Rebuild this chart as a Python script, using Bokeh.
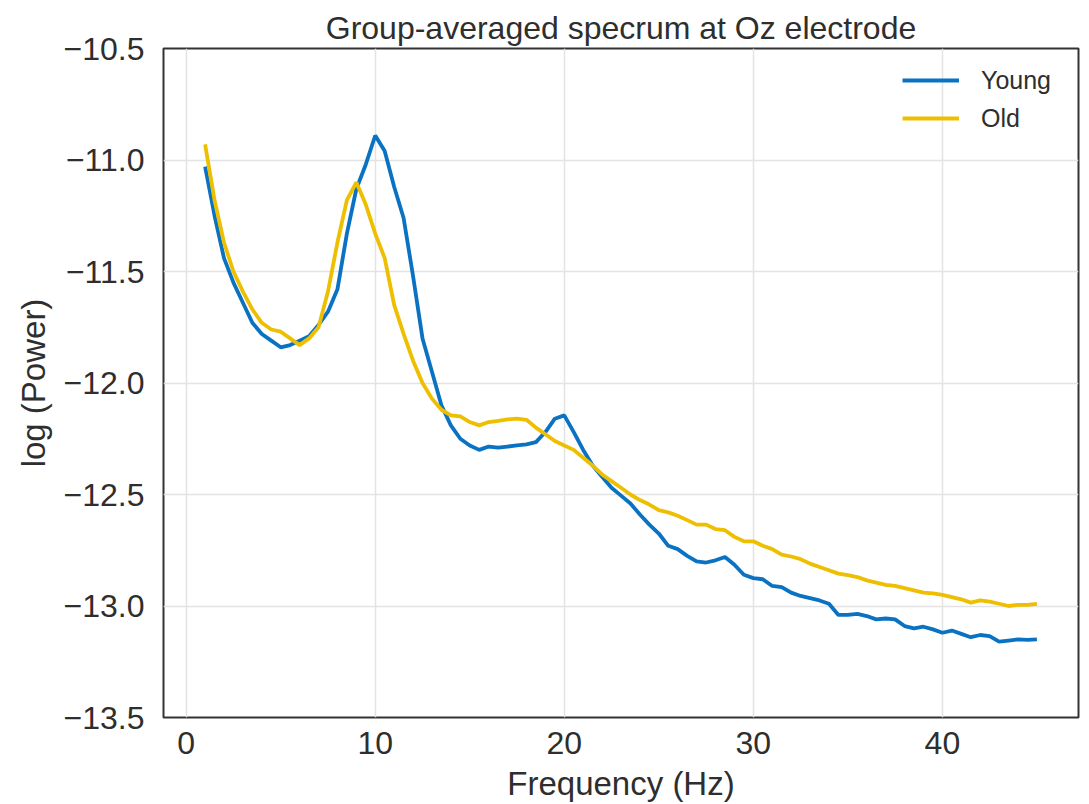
from bokeh.plotting import figure
from bokeh.models import Range1d, FixedTicker, CustomJSTickFormatter, Legend, LegendItem
from bokeh.embed import file_html
from bokeh.resources import INLINE

freq = [1.0, 1.5, 2.0, 2.5, 3.0, 3.5, 4.0, 4.5, 5.0, 5.5,
        6.0, 6.5, 7.0, 7.5, 8.0, 8.5, 9.0, 9.5, 10.0, 10.5,
        11.0, 11.5, 12.0, 12.5, 13.0, 13.5, 14.0, 14.5, 15.0, 15.5,
        16.0, 16.5, 17.0, 17.5, 18.0, 18.5, 19.0, 19.5, 20.0, 20.5,
        21.0, 21.5, 22.0, 22.5, 23.0, 23.5, 24.0, 24.5, 25.0, 25.5,
        26.0, 26.5, 27.0, 27.5, 28.0, 28.5, 29.0, 29.5, 30.0, 30.5,
        31.0, 31.5, 32.0, 32.5, 33.0, 33.5, 34.0, 34.5, 35.0, 35.5,
        36.0, 36.5, 37.0, 37.5, 38.0, 38.5, 39.0, 39.5, 40.0, 40.5,
        41.0, 41.5, 42.0, 42.5, 43.0, 43.5, 44.0, 44.5, 45.0]

young = [-11.03, -11.25, -11.44, -11.55, -11.64, -11.73, -11.78, -11.81, -11.84, -11.83,
         -11.81, -11.79, -11.74, -11.68, -11.58, -11.33, -11.13, -11.02, -10.89, -10.96,
         -11.12, -11.26, -11.52, -11.80, -11.95, -12.10, -12.19, -12.25, -12.28, -12.30,
         -12.285, -12.29, -12.285, -12.28, -12.275, -12.265, -12.22, -12.16, -12.145, -12.22,
         -12.30, -12.37, -12.42, -12.47, -12.505, -12.54, -12.59, -12.635, -12.675, -12.73,
         -12.745, -12.775, -12.80, -12.805, -12.795, -12.78, -12.815, -12.86, -12.875, -12.88,
         -12.91, -12.915, -12.94, -12.955, -12.965, -12.975, -12.99, -13.04, -13.04, -13.035,
         -13.045, -13.06, -13.056, -13.06, -13.09, -13.10, -13.093, -13.105, -13.12, -13.11,
         -13.125, -13.14, -13.13, -13.135, -13.16, -13.155, -13.15, -13.152, -13.15]

old = [-10.93, -11.18, -11.37, -11.50, -11.59, -11.67, -11.73, -11.76, -11.77, -11.80,
       -11.83, -11.80, -11.75, -11.59, -11.37, -11.18, -11.10, -11.20, -11.33, -11.44,
       -11.65, -11.78, -11.90, -12.00, -12.07, -12.12, -12.145, -12.15, -12.175, -12.19,
       -12.175, -12.17, -12.163, -12.16, -12.165, -12.20, -12.23, -12.26, -12.28, -12.30,
       -12.335, -12.37, -12.41, -12.44, -12.47, -12.50, -12.525, -12.545, -12.57, -12.58,
       -12.595, -12.615, -12.635, -12.635, -12.655, -12.66, -12.69, -12.71, -12.71, -12.73,
       -12.745, -12.77, -12.778, -12.79, -12.81, -12.825, -12.84, -12.855, -12.862, -12.87,
       -12.885, -12.895, -12.905, -12.91, -12.92, -12.93, -12.94, -12.943, -12.95, -12.96,
       -12.97, -12.985, -12.975, -12.98, -12.99, -13.00, -12.995, -12.995, -12.99]

x_ticks = [0, 10, 20, 30, 40]
y_ticks = [-13.5, -13.0, -12.5, -12.0, -11.5, -11.0, -10.5]

TXT = "#2e2e2e"
FONT = "Liberation Sans"

p = figure(width=1089, height=804, output_backend="svg", toolbar_location=None,
           x_range=Range1d(-1.2, 47.2), y_range=Range1d(-13.5, -10.5),
           title="Group-averaged specrum at Oz electrode")
p.frame_width = 915
p.frame_height = 669
p.min_border_left = 163
p.min_border_right = 11
p.min_border_top = 48
p.min_border_bottom = 87
p.background_fill_color = "white"
p.border_fill_color = "white"
p.outline_line_color = "#333333"
p.outline_line_width = 2
p.outline_line_alpha = 1.0

p.title.align = "center"
p.title.text_font = FONT
p.title.text_font_size = "32px"
p.title.text_font_style = "normal"
p.title.text_color = TXT
p.title.standoff = 5

for ax in (p.xaxis[0], p.yaxis[0]):
    ax.axis_line_color = None
    ax.major_tick_line_color = None
    ax.minor_tick_line_color = None
    ax.major_tick_out = 0
    ax.major_tick_in = 0
    ax.minor_tick_out = 0
    ax.minor_tick_in = 0
    ax.major_label_text_font = FONT
    ax.major_label_text_font_size = "32px"
    ax.major_label_text_color = TXT
    ax.axis_label_text_font = FONT
    ax.axis_label_text_font_size = "33px"
    ax.axis_label_text_font_style = "normal"
    ax.axis_label_text_color = TXT

p.xaxis.ticker = FixedTicker(ticks=x_ticks)
p.yaxis.ticker = FixedTicker(ticks=y_ticks)
p.yaxis.formatter = CustomJSTickFormatter(
    code="return (tick < 0 ? '\u2212' : '') + Math.abs(tick).toFixed(1);")
p.xaxis.major_label_standoff = 14
p.yaxis.major_label_standoff = 19
p.xaxis.axis_label = "Frequency (Hz)"
p.yaxis.axis_label = "log (Power)"
p.xaxis.axis_label_standoff = 8
p.yaxis.axis_label_standoff = 9

p.grid.grid_line_color = "#e3e3e3"
p.grid.grid_line_width = 1.5

r1 = p.line(freq, young, line_color="#0a72c2", line_width=3.8)
r2 = p.line(freq, old, line_color="#eebf00", line_width=3.8)

legend = Legend(items=[LegendItem(label="Young", renderers=[r1]),
                       LegendItem(label="Old", renderers=[r2])],
                location=(739, 584))
legend.background_fill_alpha = 0
legend.border_line_color = None
legend.label_text_font = FONT
legend.label_text_font_size = "25px"
legend.label_text_color = TXT
legend.glyph_width = 57
legend.glyph_height = 30
legend.label_standoff = 22
legend.spacing = 8
legend.padding = 7
legend.margin = 0
p.add_layout(legend, "center")

open("out.html", "w").write(file_html(p, INLINE))
